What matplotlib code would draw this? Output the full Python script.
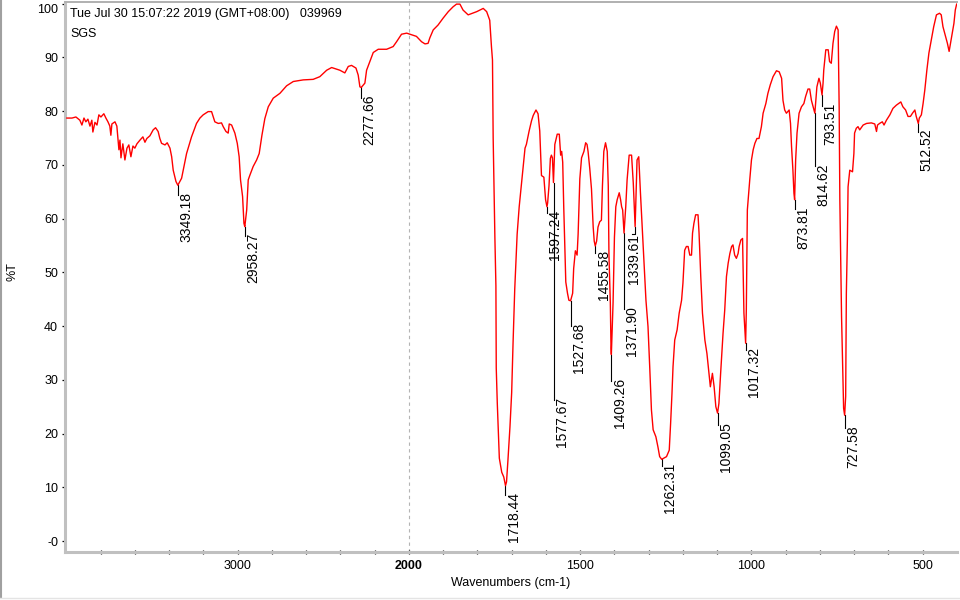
import numpy as np
import matplotlib
matplotlib.use('Agg')
import matplotlib.pyplot as plt
from matplotlib.lines import Line2D

plt.rcParams['font.family'] = ['Liberation Sans', 'DejaVu Sans']

# spectrum: wavenumber (cm-1) and %T
wn = [3997, 3967, 3944, 3921, 3909, 3897, 3886, 3874, 3862, 3851, 3845, 3833, 3821, 3810, 3798,
      3781, 3769, 3757, 3746, 3740, 3734, 3716, 3705, 3699, 3693, 3687, 3681, 3670, 3658, 3646,
      3635, 3623, 3611, 3600, 3588, 3570, 3553, 3541, 3530, 3512, 3493, 3479, 3464, 3454, 3444,
      3424, 3411, 3395, 3385, 3376, 3360, 3349, 3327, 3314, 3298, 3269, 3240, 3220, 3201, 3172,
      3152, 3133, 3113, 3094, 3084, 3068, 3055, 3049, 3035, 3016, 3002, 2991, 2983, 2971, 2963,
      2958, 2947, 2938, 2928, 2909, 2889, 2874, 2858, 2841, 2821, 2792, 2753, 2714, 2675, 2617,
      2559, 2520, 2480, 2451, 2403, 2374, 2354, 2335, 2309, 2296, 2286, 2278, 2257, 2247, 2228,
      2208, 2179, 2130, 2092, 2072, 2043, 2013, 1992, 1978, 1963, 1953, 1944, 1939, 1929, 1915,
      1900, 1885, 1871, 1861, 1851, 1842, 1827, 1802, 1783, 1773, 1764, 1759, 1756, 1754, 1749,
      1746, 1745, 1742, 1736, 1729, 1723, 1718, 1715, 1711, 1705, 1700, 1696, 1691, 1684, 1678,
      1671, 1666, 1661, 1657, 1649, 1642, 1637, 1629, 1623, 1618, 1613, 1606, 1601, 1597, 1595,
      1591, 1587, 1584, 1581, 1578, 1574, 1567, 1561, 1557, 1554, 1551, 1548, 1542, 1537, 1533,
      1528, 1522, 1519, 1514, 1509, 1506, 1501, 1496, 1489, 1484, 1480, 1477, 1472, 1467, 1462,
      1459, 1456, 1452, 1448, 1443, 1438, 1435, 1431, 1426, 1421, 1418, 1416, 1412, 1410, 1409,
      1404, 1400, 1396, 1392, 1386, 1382, 1379, 1376, 1372, 1367, 1363, 1357, 1350, 1345, 1341,
      1339.6, 1334, 1329, 1324, 1318, 1314, 1308, 1302, 1297, 1292, 1287, 1279, 1273, 1268, 1262,
      1248, 1240, 1236, 1232, 1229, 1224, 1217, 1211, 1204, 1200, 1195, 1190, 1185, 1180, 1175,
      1172, 1168, 1163, 1156, 1153, 1148, 1143, 1136, 1130, 1124, 1120, 1114, 1109, 1104, 1099,
      1095, 1090, 1083, 1078, 1073, 1068, 1063, 1058, 1054, 1049, 1044, 1039, 1036, 1031, 1026,
      1022, 1017, 1015, 1012, 1005, 1000, 995, 990, 984, 978, 971, 966, 958, 952, 945,
      937, 927, 919, 912, 908, 903, 898, 890, 886, 883, 879, 876, 874, 871, 867,
      861, 854, 847, 842, 835, 830, 825, 820, 815, 812, 809, 803, 799, 794, 791,
      789, 783, 776, 772, 767, 762, 757, 752, 747, 744, 742, 737, 734, 731, 728,
      725, 723, 720, 718, 713, 705, 701, 699, 694, 689, 684, 674, 664, 650, 640,
      635, 632, 626, 618, 613, 606, 596, 587, 577, 564, 558, 550, 543, 536, 530,
      523, 519, 513, 510, 504, 499, 494, 488, 482, 475, 468, 460, 451, 446, 441,
      433, 428, 423, 419, 414, 409, 405, 401]
trans = [78.7, 78.7, 78.9, 78.3, 77.4, 78.7, 78.0, 78.5, 77.2, 78.3, 76.1, 77.9, 77.4, 79.3, 78.9,
         79.5, 78.7, 78.0, 77.2, 75.5, 77.6, 78.0, 77.2, 75.0, 72.8, 74.6, 71.3, 73.9, 70.9, 73.1,
         73.7, 71.5, 73.5, 73.1, 73.9, 74.6, 75.2, 74.2, 74.9, 75.4, 76.5, 76.9, 76.2, 74.9, 74.0,
         73.7, 74.1, 73.1, 71.5, 69.0, 66.9, 66.2, 67.5, 69.6, 72.1, 75.2, 77.7, 78.7, 79.3, 79.9,
         79.9, 78.0, 77.7, 77.8, 77.1, 76.2, 75.9, 77.6, 77.4, 75.9, 74.0, 71.5, 67.2, 64.1, 59.1,
         58.5, 61.6, 67.2, 68.1, 69.7, 70.9, 72.1, 75.5, 78.6, 80.8, 82.4, 83.3, 84.7, 85.5, 85.8,
         85.9, 86.4, 87.6, 88.1, 87.6, 87.1, 88.3, 88.5, 88.0, 86.7, 84.5, 84.4, 85.2, 87.6, 89.2,
         90.9, 91.5, 91.5, 92.0, 92.9, 94.3, 94.5, 94.2, 93.9, 92.9, 92.5, 92.6, 93.6, 95.1, 96.0,
         97.3, 98.5, 99.4, 99.9, 99.9, 98.8, 97.9, 98.5, 99.1, 98.5, 96.9, 92.0, 89.5, 75.0, 56.5,
         47.5, 32.2, 25.7, 15.4, 12.8, 11.9, 10.3, 11.0, 14.9, 21.2, 27.6, 36.7, 46.9, 57.1, 62.2,
         66.7, 70.0, 73.1, 73.8, 76.3, 78.2, 79.2, 80.2, 79.5, 76.3, 68.0, 67.7, 63.5, 62.2, 62.9,
         66.1, 71.2, 71.8, 71.3, 66.7, 73.8, 75.7, 75.7, 71.8, 72.5, 70.5, 62.2, 48.2, 46.1, 44.8,
         44.7, 46.1, 50.7, 54.0, 53.2, 57.1, 67.4, 71.3, 72.5, 74.1, 73.8, 72.5, 69.3, 65.5, 58.4,
         55.8, 54.9, 55.8, 58.4, 59.4, 59.7, 66.1, 72.5, 74.1, 72.5, 66.1, 53.2, 44.3, 35.9, 34.7,
         44.3, 56.5, 62.2, 63.5, 64.8, 63.5, 62.2, 61.6, 57.3, 62.2, 67.2, 71.8, 71.8, 66.6, 60.3,
         58.5, 70.9, 71.5, 64.7, 57.3, 52.3, 44.8, 39.9, 32.4, 24.4, 20.7, 19.4, 17.5, 15.7, 15.2,
         15.7, 16.9, 21.9, 27.5, 32.4, 37.4, 39.3, 42.4, 44.8, 48.0, 54.1, 54.8, 54.8, 53.2, 53.2,
         57.3, 59.1, 60.7, 60.7, 57.3, 49.2, 42.4, 37.4, 34.9, 31.2, 28.7, 31.2, 28.7, 25.0, 23.8,
         25.6, 31.2, 38.6, 43.0, 49.2, 51.7, 53.5, 54.8, 55.1, 53.2, 52.6, 53.5, 54.8, 56.0, 56.3,
         42.4, 36.8, 43.0, 61.6, 67.2, 70.9, 72.8, 74.0, 74.9, 74.9, 77.1, 79.6, 81.4, 83.3, 84.9,
         86.4, 87.5, 87.3, 86.1, 82.0, 80.2, 79.6, 80.2, 77.7, 73.4, 69.0, 64.7, 63.5, 70.9, 75.9,
         79.6, 80.8, 81.4, 82.7, 84.1, 84.1, 82.0, 80.8, 79.6, 82.1, 84.5, 86.1, 85.2, 83.0, 85.2,
         87.6, 91.4, 91.4, 89.2, 88.9, 92.6, 94.8, 95.8, 95.1, 80.8, 63.5, 41.7, 33.4, 24.7, 23.4,
         26.9, 46.1, 56.0, 65.9, 69.0, 68.7, 72.1, 75.9, 76.8, 77.1, 76.5, 77.4, 77.7, 77.8, 77.6,
         76.2, 77.4, 77.7, 78.0, 77.4, 78.3, 79.3, 80.5, 81.1, 81.7, 80.8, 80.2, 79.0, 79.0, 79.6,
         80.2, 79.0, 77.7, 78.7, 79.3, 81.4, 83.9, 87.6, 90.8, 93.2, 95.7, 97.9, 98.2, 97.9, 95.7,
         93.8, 92.6, 91.1, 92.6, 94.5, 96.3, 98.8, 99.9]

# picked peaks: position, %T at the peak, %T where the label starts
peak_wn = [3349.18, 2958.27, 2277.66, 1718.44, 1597.24, 1577.67, 1527.68, 1455.58, 1409.26, 1371.90,
           1339.61, 1262.31, 1099.05, 1017.32, 873.81, 814.62, 793.51, 727.58, 512.52]
peak_t = [66.2, 58.5, 84.4, 10.3, 62.2, 66.7, 44.7, 54.9, 34.7, 57.3,
          58.5, 15.2, 23.8, 36.8, 63.5, 79.6, 83.0, 23.4, 77.7]
label_t = [64.9, 57.3, 83.0, 9.1, 61.6, 26.8, 40.6, 54.1, 30.3, 43.7,
           57.1, 14.5, 22.1, 36.1, 62.3, 70.3, 81.5, 21.6, 76.7]

x_major = [3000, 2000, 1500, 1000, 500]
x_minor = [3800, 3600, 3400, 3200, 2800, 2600, 2400, 2200] + [w for w in range(1900, 400, -100) if w not in x_major]
y_major = list(range(0, 101, 10))
y_labels = ['-0'] + [str(v) for v in y_major[1:]]


# x axis is expanded 2x below 2000 cm-1
def fwd(w):
    w = np.asarray(w, dtype=float)
    return np.where(w > 2000, 2000 + (w - 2000) / 2, w)


def inv(u):
    u = np.asarray(u, dtype=float)
    return np.where(u > 2000, 2000 + (u - 2000) * 2, u)


fig = plt.figure(figsize=(9.6, 6), dpi=100)
ax = fig.add_axes([65.3 / 960, 1 - 552.3 / 600, (957 - 65.3) / 960, (552.3 - 1.7) / 600])
ax.set_xscale('function', functions=(fwd, inv))
ax.set_xlim(4006, 400)
ax.set_ylim(-2.1, 100.35)

ax.axvline(2000, color='#b4b4b4', lw=0.8, ls=(0, (3, 3)), zorder=1)
ax.plot(wn, trans, color='#ff0000', lw=1.0, zorder=3)

# peak markers and labels
for w, t, lt in zip(peak_wn, peak_t, label_t):
    if w == 1339.61:
        ax.plot([w, w, 1350], [t, lt, lt], color='black', lw=0.8, zorder=2)
        ax.annotate(f'{w:.2f}', (1366, lt), xytext=(1, 0), textcoords='offset points',
                    rotation=90, ha='left', va='top', fontsize=10)
        continue
    ax.plot([w, w], [t, lt - 0.6], color='black', lw=0.8, zorder=2)
    ax.annotate(f'{w:.2f}', (w, lt), xytext=(1, 0), textcoords='offset points',
                rotation=90, ha='left', va='top', fontsize=10)

ax.set_xticks(x_major)
ax.set_xticklabels([str(v) for v in x_major])
ax.set_xticks(x_minor, minor=True)
ax.get_xticklabels()[1].set_fontweight('bold')
ax.set_yticks(y_major)
ax.set_yticklabels(y_labels)
ax.set_yticks([v for v in range(0, 101, 2) if v % 10], minor=True)
ax.get_yticklabels()[-1].set_va('top')

ax.tick_params(axis='x', which='both', direction='inout', length=3.5, width=0.9, color='black',
               labelsize=9, pad=4)
ax.tick_params(axis='y', which='major', direction='out', length=2.2, width=0.9, color='black',
               labelsize=9, pad=3)
ax.tick_params(axis='y', which='minor', direction='out', length=1.0, width=0.9, color='black')

for side in ['left', 'bottom']:
    ax.spines[side].set_color('#c0c0c0')
    ax.spines[side].set_linewidth(2.2)
ax.spines['top'].set_color('#b0b0b0')
ax.spines['top'].set_linewidth(1.4)
ax.spines['right'].set_visible(False)

fig.text(70 / 960, 1 - 14 / 600, 'Tue Jul 30 15:07:22 2019 (GMT+08:00)   039969', fontsize=9, va='center')
fig.text(70 / 960, 1 - 34 / 600, 'SGS', fontsize=9, va='center')
fig.text(511 / 960, 1 - 583 / 600, 'Wavenumbers (cm-1)', fontsize=9, ha='center', va='center')
fig.text(12 / 960, 1 - 272 / 600, '%T', fontsize=9, rotation=90, ha='center', va='center')

# window frame
fig.add_artist(Line2D([1 / 960, 1 / 960], [0.005, 1], transform=fig.transFigure, color='#a0a0a0', lw=1.5))
fig.add_artist(Line2D([0, 1], [2 / 600, 2 / 600], transform=fig.transFigure, color='#e4e4e4', lw=1))

fig.savefig('out.png', dpi=100)
